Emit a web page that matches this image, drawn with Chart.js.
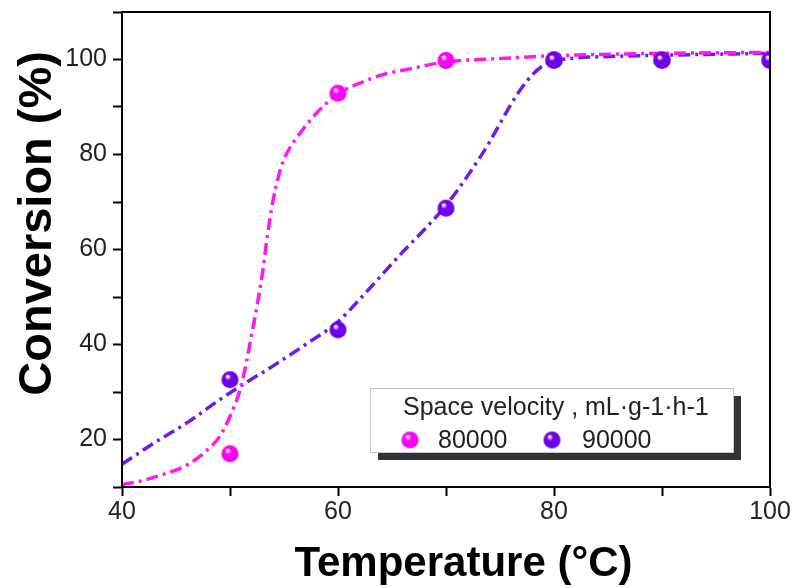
<!DOCTYPE html>
<html>
<head>
<meta charset="utf-8">
<script src="https://cdn.jsdelivr.net/npm/chart.js@4.4.0/dist/chart.umd.min.js"></script>
<style>
  html, body { margin: 0; padding: 0; background: #fff; }
  #wrap { width: 796px; height: 588px; position: relative; }
</style>
</head>
<body>
<div id="wrap"><canvas id="chart"></canvas></div>
<script>
// ---------------- DATA ----------------

const temps = [50, 60, 70, 80, 90, 100];
const conv80000 = [17, 92.9, 99.8, 100, 100, 100];
const conv90000 = [32.6, 43.1, 68.7, 99.8, 99.8, 99.8];

// fitted curves
const fit80000X = [40, 42, 44, 46, 48, 49, 50, 51, 52, 53, 53.5, 54, 54.5, 55, 56, 57, 58, 60, 62, 64, 67, 70, 75, 80, 90, 100];
const fit80000Y = [10.5, 11.4, 12.8, 14.6, 18, 20.5, 24.9, 31, 42, 55, 63.5, 70.5, 75.5, 79, 83, 86, 88.7, 92.8, 95, 96.7, 98.2, 99.5, 100.2, 100.8, 101.3, 101.5];

const fit90000X = [40, 43, 46, 49, 51, 54, 57, 60, 62, 64, 66, 68, 70, 72, 74, 76, 77, 78, 79, 80, 82, 86, 90, 100];
const fit90000Y = [14.8, 19.3, 23.5, 28.3, 31.3, 35.5, 40, 44.8, 49.5, 54.5, 59.5, 64.2, 69.3, 75.5, 82.5, 90.5, 94, 96.8, 98.7, 99.7, 100.3, 100.7, 100.9, 101.3];

const xTicks = [40, 60, 80, 100];
const yTicks = [20, 40, 60, 80, 100];

const seriesNames = ["80000", "90000"];
const legendTitle = "Space velocity , mL\u00b7g-1\u00b7h-1";

const MAGENTA = "#ff19f5";
const PURPLE = "#6a1ee6";
const FONT = "'Liberation Sans', Arial, sans-serif";

// ---------------- HELPERS ----------------

function toPoints(xs, ys) {
    return xs.map((x, i) => ({ x: x, y: ys[i] }));
}

// little shaded ball used as point marker
function makeSphere(base, dark, r) {
    const c = document.createElement("canvas");
    c.width = c.height = Math.ceil(r * 2 + 2);
    const g = c.getContext("2d");
    const cx = c.width / 2, cy = c.height / 2;
    const grad = g.createRadialGradient(cx - r * 0.3, cy - r * 0.4, r * 0.1, cx, cy, r);
    grad.addColorStop(0, "#ffffff");
    grad.addColorStop(0.3, base);
    grad.addColorStop(0.85, base);
    grad.addColorStop(1, dark);
    g.fillStyle = grad;
    g.beginPath();
    g.arc(cx, cy, r, 0, Math.PI * 2);
    g.fill();
    return c;
}

const ballMagenta = makeSphere("#ff00ff", "#c000c8", 8.5);
const ballPurple = makeSphere("#7000f0", "#4a00a8", 8.5);

// ---------------- PLUGINS ----------------

const framePlugin = {
    id: "frame",
    afterDatasetsDraw(chart) {
        const { ctx, chartArea: a } = chart;
        ctx.save();
        ctx.strokeStyle = "#000";
        ctx.lineWidth = 2;
        ctx.strokeRect(a.left, a.top, a.right - a.left, a.bottom - a.top);
        ctx.restore();
    }
};

const legendPlugin = {
    id: "boxLegend",
    afterDraw(chart) {
        const ctx = chart.ctx;
        const bx = 370, by = 388, bw = 363, bh = 64;
        ctx.save();
        // shadow
        ctx.fillStyle = "#333";
        ctx.fillRect(bx + 8, by + 8, bw, bh);
        ctx.fillStyle = "#fff";
        ctx.fillRect(bx, by, bw, bh);
        ctx.strokeStyle = "#c8c8c8";
        ctx.lineWidth = 1;
        ctx.strokeRect(bx + 0.5, by + 0.5, bw, bh);

        ctx.fillStyle = "#222";
        ctx.font = `25px ${FONT}`;
        ctx.textBaseline = "alphabetic";
        ctx.textAlign = "left";
        ctx.fillText(legendTitle, 403, 415);

        const items = [
            { img: ballMagenta, mx: 410, tx: 438, label: seriesNames[0] },
            { img: ballPurple, mx: 552, tx: 582, label: seriesNames[1] }
        ];
        items.forEach(it => {
            ctx.drawImage(it.img, it.mx - it.img.width / 2, 440 - it.img.height / 2);
            ctx.fillText(it.label, it.tx, 448);
        });
        ctx.restore();
    }
};

// ---------------- CHART ----------------

const dashDot = [12, 5, 3, 5];

new Chart(document.getElementById("chart"), {
    type: "scatter",
    data: {
        datasets: [
            {
                label: seriesNames[1],
                data: toPoints(temps, conv90000),
                pointStyle: ballPurple,
                pointRadius: 8,
                order: 0,
                clip: 0
            },
            {
                label: seriesNames[0],
                data: toPoints(temps, conv80000),
                pointStyle: ballMagenta,
                pointRadius: 8,
                order: 1,
                clip: 0
            },
            {
                label: "fit 80000",
                data: toPoints(fit80000X, fit80000Y),
                showLine: true,
                pointRadius: 0,
                borderColor: MAGENTA,
                borderWidth: 3.5,
                borderDash: dashDot,
                cubicInterpolationMode: "monotone",
                order: 2,
                clip: 0
            },
            {
                label: "fit 90000",
                data: toPoints(fit90000X, fit90000Y),
                showLine: true,
                pointRadius: 0,
                borderColor: PURPLE,
                borderWidth: 3.5,
                borderDash: dashDot,
                cubicInterpolationMode: "monotone",
                order: 3,
                clip: 0
            }
        ]
    },
    options: {
        responsive: true,
        maintainAspectRatio: false,
        animation: false,
        layout: { padding: { left: 0, top: 12, right: 26, bottom: 0 } },
        plugins: {
            legend: { display: false },
            tooltip: { enabled: false }
        },
        scales: {
            x: {
                type: "linear",
                min: 40,
                max: 100,
                afterFit: s => { s.height = 101; },
                border: { display: true, color: "#000", width: 2 },
                grid: { drawOnChartArea: false, drawTicks: true, tickLength: 9, tickWidth: 2, tickColor: "#000" },
                ticks: {
                    stepSize: 10,
                    padding: 1,
                    color: "#222",
                    font: { family: FONT, size: 25 },
                    maxRotation: 0,
                    callback: v => xTicks.includes(v) ? v : ""
                },
                title: {
                    display: true,
                    // leading spaces nudge the title right like the original
                    text: "\u00a0\u00a0\u00a0Temperature (\u00b0C)",
                    color: "#000",
                    font: { family: FONT, size: 42, weight: "bold" },
                    padding: { top: 0, bottom: -2 }
                }
            },
            y: {
                type: "linear",
                min: 10,
                max: 110,
                afterFit: s => { s.width = 122; s.paddingTop = 0; s.paddingBottom = 0; },
                border: { display: true, color: "#000", width: 2 },
                grid: { drawOnChartArea: false, drawTicks: true, tickLength: 9, tickWidth: 2, tickColor: "#000" },
                ticks: {
                    stepSize: 10,
                    padding: 6,
                    color: "#222",
                    font: { family: FONT, size: 25 },
                    callback: v => yTicks.includes(v) ? v : ""
                },
                title: {
                    display: true,
                    text: "\u00a0\u00a0\u00a0\u00a0Conversion (%)",
                    color: "#000",
                    font: { family: FONT, size: 47, weight: "bold" },
                    padding: { top: 10, bottom: 0 }
                }
            }
        }
    },
    plugins: [framePlugin, legendPlugin]
});
</script>
</body>
</html>
